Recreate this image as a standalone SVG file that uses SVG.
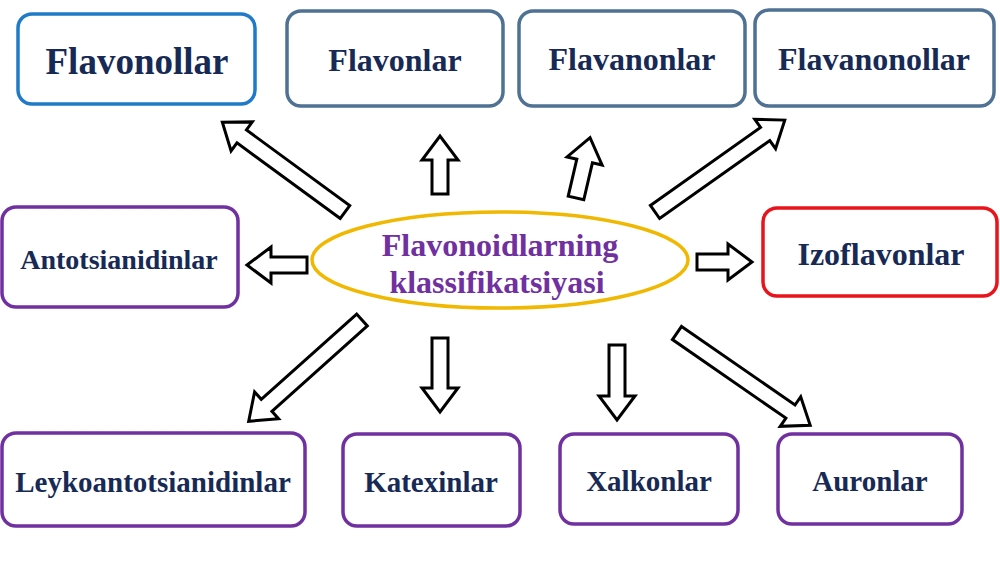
<svg xmlns="http://www.w3.org/2000/svg" width="1000" height="562" viewBox="0 0 1000 562">
<style>
.box{fill:#fff;stroke-width:3.5}
.b1{stroke:#1f7bc8}.b2{stroke:#4f7194}.bp{stroke:#7030a0}.br{stroke:#e8141c}
.t{font-family:"Liberation Serif",serif;font-weight:bold;fill:#172a55;text-anchor:middle}
.ar{fill:#fff;stroke:#000;stroke-width:3;stroke-linejoin:miter}
</style>
<rect width="1000" height="562" fill="#fff"/>
<g id="flavonollar"><rect class="box b1" x="18" y="14" width="237" height="90" rx="14"/><text class="t" x="137" y="74" font-size="37">Flavonollar</text></g>
<g id="flavonlar"><rect class="box b2" x="287" y="11" width="216" height="95" rx="14"/><text class="t" x="395" y="71" font-size="32">Flavonlar</text></g>
<g id="flavanonlar"><rect class="box b2" x="519" y="11" width="226" height="95" rx="14"/><text class="t" x="632" y="70" font-size="32">Flavanonlar</text></g>
<g id="flavanonollar"><rect class="box b2" x="755" y="10" width="239" height="96" rx="14"/><text class="t" x="874" y="70" font-size="32">Flavanonollar</text></g>
<g id="antotsianidinlar"><rect class="box bp" x="2" y="207" width="236" height="100" rx="14"/><text class="t" x="119" y="269" font-size="28">Antotsianidinlar</text></g>
<g id="izoflavonlar"><rect class="box br" x="763" y="208" width="234" height="88" rx="14"/><text class="t" x="881" y="265" font-size="32">Izoflavonlar</text></g>
<g id="leyko"><rect class="box bp" x="2" y="433" width="303" height="93" rx="14"/><text class="t" x="153" y="492" font-size="29">Leykoantotsianidinlar</text></g>
<g id="katexinlar"><rect class="box bp" x="343" y="434" width="177" height="92" rx="14"/><text class="t" x="431" y="492" font-size="29">Katexinlar</text></g>
<g id="xalkonlar"><rect class="box bp" x="560" y="434" width="178" height="90" rx="14"/><text class="t" x="649" y="491" font-size="29">Xalkonlar</text></g>
<g id="auronlar"><rect class="box bp" x="778" y="434" width="184" height="90" rx="14"/><text class="t" x="870" y="491" font-size="29">Auronlar</text></g>
<g id="center"><ellipse cx="500" cy="260" rx="188" ry="48" fill="#fff" stroke="#f0b800" stroke-width="3.5"/>
<text x="500" y="256" font-family="Liberation Serif,serif" font-weight="bold" font-size="32" fill="#7030a0" text-anchor="middle">Flavonoidlarning</text>
<text x="497" y="293" font-family="Liberation Serif,serif" font-weight="bold" font-size="32" fill="#7030a0" text-anchor="middle">klassifikatsiyasi</text></g>
<g id="connectors">
<polygon class="ar" transform="translate(345,212) rotate(216.2)" points="0,-8 128,-8 128,-18 152,0 128,18 128,8 0,8"/>
<polygon class="ar" transform="translate(440,194) rotate(-90)" points="0,-8 34,-8 34,-18 58,0 34,18 34,8 0,8"/>
<polygon class="ar" transform="translate(576,198) rotate(-76.9)" points="0,-8 38,-8 38,-18 62,0 38,18 38,8 0,8"/>
<polygon class="ar" transform="translate(655,212) rotate(-35.3)" points="0,-8 135,-8 135,-18 159,0 135,18 135,8 0,8"/>
<polygon class="ar" transform="translate(307,265) rotate(180)" points="0,-8 36,-8 36,-18 60,0 36,18 36,8 0,8"/>
<polygon class="ar" transform="translate(697,262)" points="0,-8 31,-8 31,-18 55,0 31,18 31,8 0,8"/>
<polygon class="ar" transform="translate(362,320) rotate(138.2)" points="0,-8 128,-8 128,-18 152,0 128,18 128,8 0,8"/>
<polygon class="ar" transform="translate(440,338) rotate(90)" points="0,-8 50,-8 50,-18 74,0 50,18 50,8 0,8"/>
<polygon class="ar" transform="translate(617,345) rotate(90)" points="0,-8 51,-8 51,-18 75,0 51,18 51,8 0,8"/>
<polygon class="ar" transform="translate(677,333) rotate(34.7)" points="0,-8 138,-8 138,-18 162,0 138,18 138,8 0,8"/>
</g>
</svg>
